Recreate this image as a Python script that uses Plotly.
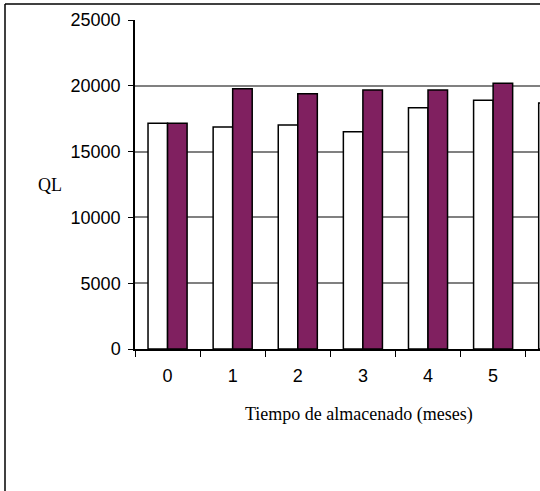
import plotly.graph_objects as go

# ---- data ----
months = ["0", "1", "2", "3", "4", "5", "6"]
serie_blanca = [17150, 16870, 17020, 16510, 18340, 18900, 18700]
serie_morada = [17150, 19780, 19400, 19680, 19680, 20190, None]
y_ticks = [0, 5000, 10000, 15000, 20000, 25000]
x_title = "Tiempo de almacenado (meses)"
y_title = "QL"

# ---- layout geometry (pixels) ----
W, H = 540, 491
ml, mr, mt, mb = 135, 0, 20, 142
pw = W - ml - mr
ph = H - mt - mb


def px_x(p):
    return (p - ml) / pw


def px_y(p):
    return (H - mb - p) / ph


fig = go.Figure()
fig.add_bar(x=months, y=serie_blanca, name="A",
            marker=dict(color="white", line=dict(color="black", width=1.5)))
fig.add_bar(x=months, y=serie_morada, name="B",
            marker=dict(color="#802060", line=dict(color="black", width=1.5)))

sans = "Liberation Sans, Arial, sans-serif"
serif = "Liberation Serif, Times New Roman, serif"

fig.update_layout(
    width=W, height=H,
    margin=dict(l=ml, r=mr, t=mt, b=mb, pad=0),
    paper_bgcolor="white", plot_bgcolor="white",
    barmode="group", bargap=0.4, bargroupgap=0,
    showlegend=False,
    font=dict(family=sans, size=18, color="black"),
    xaxis=dict(
        type="category", range=[-0.5, 5.72],
        showline=True, linecolor="black", linewidth=1.5,
        ticks="outside", ticklen=6, tickcolor="black", tickwidth=1,
        tickson="boundaries", showgrid=False,
        tickfont=dict(family=sans, size=18, color="black"),
        ticklabelstandoff=10,
    ),
    yaxis=dict(
        range=[0, 25000], tickvals=y_ticks, ticktext=[str(v) for v in y_ticks],
        showline=True, linecolor="black", linewidth=1.5,
        ticks="outside", ticklen=5, tickcolor="black", tickwidth=1,
        showgrid=True, gridcolor="#808080", gridwidth=1.5,
        zeroline=False,
        tickfont=dict(family=sans, size=18, color="black"),
        ticklabelstandoff=4,
    ),
    annotations=[
        dict(text=x_title, xref="paper", yref="paper",
             x=px_x(359), y=px_y(414), xanchor="center", yanchor="middle",
             showarrow=False, font=dict(family=serif, size=18, color="black")),
        dict(text=y_title, xref="paper", yref="paper",
             x=px_x(50), y=px_y(185), xanchor="center", yanchor="middle",
             showarrow=False, font=dict(family=serif, size=18, color="black")),
    ],
    shapes=[
        dict(type="line", xref="paper", yref="paper",
             x0=px_x(5), x1=px_x(W + 5), y0=px_y(4), y1=px_y(4),
             line=dict(color="black", width=1.5)),
        dict(type="line", xref="paper", yref="paper",
             x0=px_x(5), x1=px_x(5), y0=px_y(4), y1=px_y(H + 5),
             line=dict(color="black", width=1.5)),
    ],
)

fig.write_html("out.html")
